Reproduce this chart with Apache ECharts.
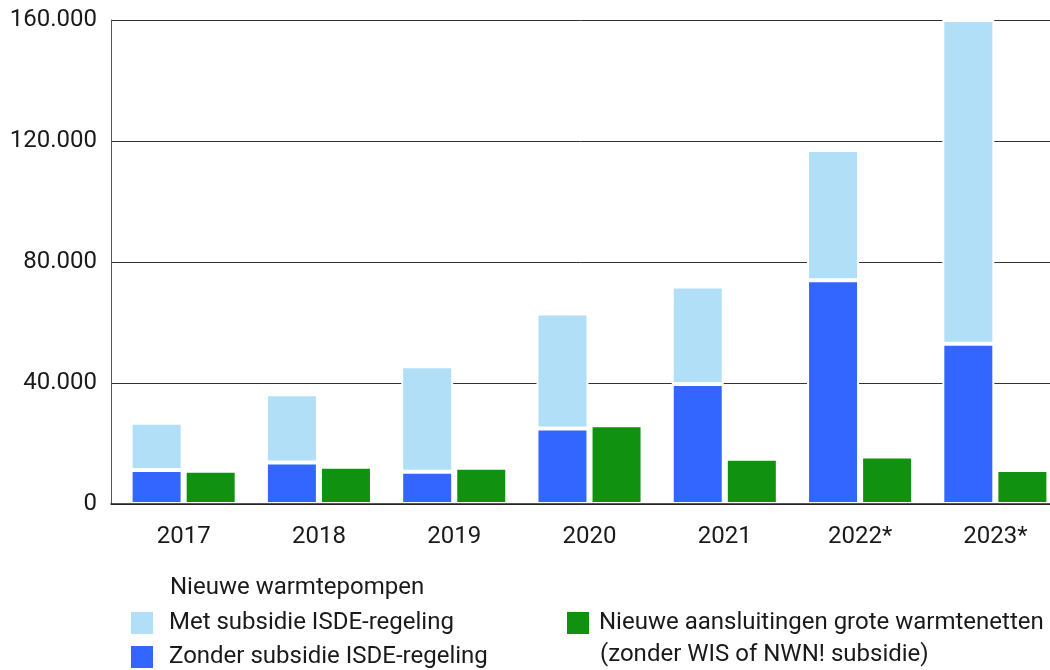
<!DOCTYPE html>
<html>
<head>
<meta charset="utf-8">
<script src="https://cdn.jsdelivr.net/npm/echarts@6/dist/echarts.min.js"></script>
<style>
  html, body { margin: 0; padding: 0; background: #fff; overflow: hidden; }
  /* the last category runs a little past the right edge of the picture */
  #chart { width: 1063px; height: 670px; }
</style>
</head>
<body>
<div id="chart"></div>
<script>
'use strict';

/*
 * Warmtepompen en warmtenetten per jaar
 */

const years = ['2017', '2018', '2019', '2020', '2021', '2022*', '2023*'];

// nieuwe warmtepompen, zonder subsidie (onderste deel van de stapel)
const zonderSubsidie = [11200, 13700, 10700, 25000, 39700, 74000, 53000];
// nieuwe warmtepompen, met subsidie (bovenste deel)
const metSubsidie = [15700, 22600, 34800, 38000, 32200, 43000, 107000];
// nieuwe aansluitingen grote warmtenetten
const warmtenetten = [11000, 12300, 12000, 26000, 15000, 15700, 11200];

const yTicks = [0, 40000, 80000, 120000, 160000];

const FONT = 'Roboto';
const TEXT = '#1a1a1a';

const fmt = v => String(v).replace(/\B(?=(\d{3})+(?!\d))/g, '.');

const barStyle = color => ({
    color: color,
    borderColor: '#ffffff',
    borderWidth: 2
});

/**
 * One legend entry at a fixed spot
 * @param {String} name
 * @param {Number} left
 * @param {Number} top
 * @param {Number} textGap
 */
const legendAt = (name, left, top, textGap) => ({
    data: [name],
    left: left,
    top: top,
    padding: 0,
    itemWidth: 22,
    itemHeight: 22,
    icon: 'rect',
    itemStyle: { borderWidth: 0 },
    selectedMode: false,
    textStyle: { fontFamily: FONT, fontSize: 24, color: TEXT, padding: [0, 0, 0, textGap] }
});

const plainText = (text, left, top) => ({
    text: text,
    left: left,
    top: top,
    padding: 0,
    textStyle: { fontFamily: FONT, fontSize: 24, fontWeight: 'normal', color: TEXT }
});

const chart = echarts.init(document.getElementById('chart'), null, { renderer: 'canvas' });

chart.setOption({
    animation: false,
    textStyle: { fontFamily: FONT, color: TEXT },
    title: [
        plainText('Nieuwe warmtepompen', 170, 576),
        plainText('(zonder WIS of NWN! subsidie)', 600, 643)
    ],
    legend: [
        legendAt('Met subsidie ISDE-regeling', 131, 611, 11),
        legendAt('Zonder subsidie ISDE-regeling', 131, 645, 11),
        legendAt('Nieuwe aansluitingen grote warmtenetten', 567, 611, 5)
    ],
    grid: [
        // bars
        { left: 116, right: 0, top: 20, bottom: 166, containLabel: false },
        // frame: axis lines, gridlines, y labels
        { left: 111, right: 13, top: 20, bottom: 166, containLabel: false }
    ],
    xAxis: [
        {
            type: 'category',
            gridIndex: 0,
            data: years,
            axisLine: { show: false },
            axisTick: { show: false },
            axisLabel: { fontFamily: FONT, fontSize: 24, color: TEXT, margin: 21 }
        },
        {
            type: 'category',
            gridIndex: 1,
            data: years,
            z: 5,
            axisLine: { show: true, lineStyle: { color: '#222', width: 1.5 } },
            axisTick: { show: false },
            axisLabel: { show: false }
        }
    ],
    yAxis: [
        {
            type: 'value',
            gridIndex: 0,
            min: yTicks[0],
            max: yTicks[yTicks.length - 1],
            interval: yTicks[1] - yTicks[0],
            show: false
        },
        {
            type: 'value',
            gridIndex: 1,
            min: yTicks[0],
            max: yTicks[yTicks.length - 1],
            interval: yTicks[1] - yTicks[0],
            axisLine: { show: true, lineStyle: { color: '#555', width: 1 } },
            axisTick: { show: false },
            axisLabel: { fontFamily: FONT, fontSize: 24, color: TEXT, margin: 14, formatter: fmt },
            splitLine: { show: true, lineStyle: { color: '#333', width: 1 } }
        }
    ],
    series: [
        {
            name: 'Zonder subsidie ISDE-regeling',
            type: 'bar',
            stack: 'warmtepompen',
            xAxisIndex: 0,
            yAxisIndex: 0,
            barWidth: 52,
            barGap: '4%',
            itemStyle: barStyle('#3366ff'),
            data: zonderSubsidie
        },
        {
            name: 'Met subsidie ISDE-regeling',
            type: 'bar',
            stack: 'warmtepompen',
            xAxisIndex: 0,
            yAxisIndex: 0,
            barWidth: 52,
            barGap: '4%',
            itemStyle: barStyle('#b0dff7'),
            data: metSubsidie
        },
        {
            name: 'Nieuwe aansluitingen grote warmtenetten',
            type: 'bar',
            xAxisIndex: 0,
            yAxisIndex: 0,
            barWidth: 52,
            barGap: '4%',
            itemStyle: barStyle('#10910f'),
            data: warmtenetten
        }
    ]
});
</script>
</body>
</html>
